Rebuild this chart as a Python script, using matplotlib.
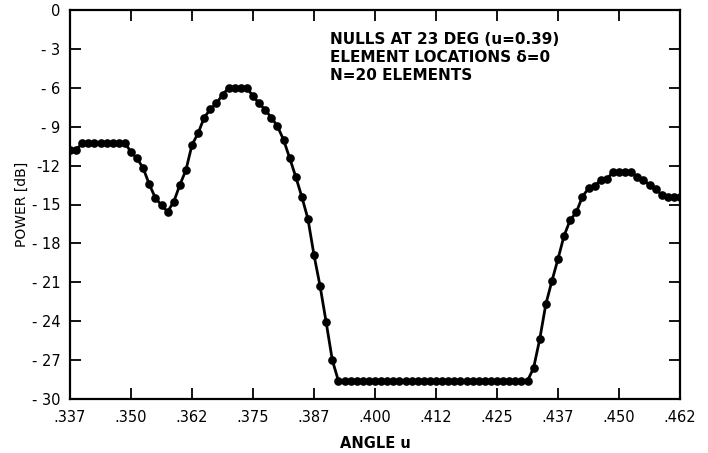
import matplotlib
matplotlib.use("Agg")
import matplotlib.pyplot as plt

# Angle samples (u) and computed array power (dB)
angle_u = [
    0.33750, 0.33875, 0.34000, 0.34125, 0.34250, 0.34375, 0.34500, 0.34625, 0.34750, 0.34875,
    0.35000, 0.35125, 0.35250, 0.35375, 0.35500, 0.35625, 0.35750, 0.35875, 0.36000, 0.36125,
    0.36250, 0.36375, 0.36500, 0.36625, 0.36750, 0.36875, 0.37000, 0.37125, 0.37250, 0.37375,
    0.37500, 0.37625, 0.37750, 0.37875, 0.38000, 0.38125, 0.38250, 0.38375, 0.38500, 0.38625,
    0.38750, 0.38875, 0.39000, 0.39125, 0.39250, 0.39375, 0.39500, 0.39625, 0.39750, 0.39875,
    0.40000, 0.40125, 0.40250, 0.40375, 0.40500, 0.40625, 0.40750, 0.40875, 0.41000, 0.41125,
    0.41250, 0.41375, 0.41500, 0.41625, 0.41750, 0.41875, 0.42000, 0.42125, 0.42250, 0.42375,
    0.42500, 0.42625, 0.42750, 0.42875, 0.43000, 0.43125, 0.43250, 0.43375, 0.43500, 0.43625,
    0.43750, 0.43875, 0.44000, 0.44125, 0.44250, 0.44375, 0.44500, 0.44625, 0.44750, 0.44875,
    0.45000, 0.45125, 0.45250, 0.45375, 0.45500, 0.45625, 0.45750, 0.45875, 0.46000, 0.46125,
    0.46250,
]

power_db = [
    -10.8, -10.8, -10.25, -10.25, -10.25, -10.25, -10.25, -10.25, -10.25, -10.25,
    -10.95, -11.45, -12.2, -13.45, -14.5, -15.05, -15.55, -14.8, -13.5, -12.35,
    -10.4, -9.5, -8.3, -7.65, -7.2, -6.55, -6.0, -6.0, -6.0, -6.0,
    -6.65, -7.2, -7.7, -8.3, -8.95, -10.0, -11.4, -12.85, -14.4, -16.1,
    -18.9, -21.3, -24.1, -27.0, -28.6, -28.6, -28.6, -28.6, -28.6, -28.6,
    -28.6, -28.6, -28.6, -28.6, -28.6, -28.6, -28.6, -28.6, -28.6, -28.6,
    -28.6, -28.6, -28.6, -28.6, -28.6, -28.6, -28.6, -28.6, -28.6, -28.6,
    -28.6, -28.6, -28.6, -28.6, -28.6, -28.6, -27.6, -25.4, -22.7, -20.9,
    -19.2, -17.4, -16.2, -15.6, -14.4, -13.75, -13.6, -13.1, -13.05, -12.5,
    -12.5, -12.5, -12.5, -12.9, -13.1, -13.5, -13.8, -14.25, -14.4, -14.4,
    -14.4,
]

x_ticks = [0.3375, 0.3500, 0.3625, 0.3750, 0.3875, 0.4000,
           0.4125, 0.4250, 0.4375, 0.4500, 0.4625]
x_tick_labels = [".337", ".350", ".362", ".375", ".387", ".400",
                 ".412", ".425", ".437", ".450", ".462"]
y_ticks = [0, -3, -6, -9, -12, -15, -18, -21, -24, -27, -30]
y_tick_labels = ["0", "- 3", "- 6", "- 9", "-12", "- 15", "- 18",
                 "- 21", "- 24", "- 27", "- 30"]

annotation_lines = [
    "NULLS AT 23 DEG (u=0.39)",
    "ELEMENT LOCATIONS δ=0",
    "N=20 ELEMENTS",
]

plt.rcParams["font.family"] = ["DejaVu Sans"]

fig = plt.figure(figsize=(7.08, 4.53), dpi=100)
ax = fig.add_axes([70 / 708, 1 - 399 / 453, 610 / 708, 389 / 453])

ax.plot(angle_u, power_db, color="black", linewidth=2.0,
        marker="o", markersize=5.2, markerfacecolor="black",
        markeredgecolor="black")

ax.set_xlim(0.3375, 0.4625)
ax.set_ylim(-30, 0)
ax.set_xticks(x_ticks)
ax.set_xticklabels(x_tick_labels)
ax.set_yticks(y_ticks)
ax.set_yticklabels(y_tick_labels)

ax.tick_params(axis="both", which="major", direction="in", length=8,
               width=1.3, top=True, right=True, labelsize=10.5,
               colors="black")
ax.tick_params(axis="x", pad=8)
ax.tick_params(axis="y", pad=7)
for spine in ax.spines.values():
    spine.set_linewidth(1.6)
    spine.set_color("black")

ax.set_xlabel("ANGLE u", fontsize=10.5, fontweight="bold", labelpad=8)
ax.set_ylabel("POWER [dB]", fontsize=10, labelpad=2)

for i, line in enumerate(annotation_lines):
    ax.text(330, 453 - 40 - 18 * i, line, transform=None,
            fontsize=11, fontweight="bold", ha="left", va="center")

fig.savefig("out.png", dpi=100, facecolor="white")
